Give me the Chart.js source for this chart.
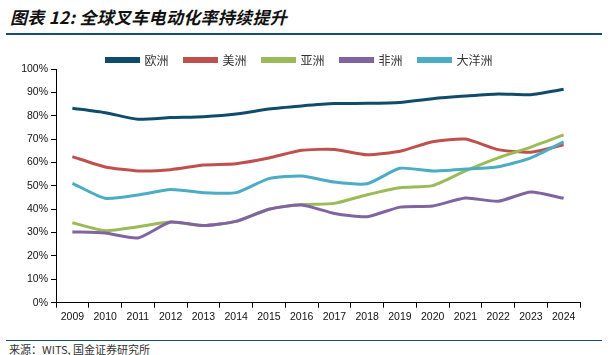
<!DOCTYPE html>
<html><head><meta charset="utf-8">
<script src="https://cdn.jsdelivr.net/npm/chart.js@4.4.1/dist/chart.umd.min.js"></script>
<style>
html,body{margin:0;padding:0;background:#fff;width:610px;height:355px;overflow:hidden;position:relative;}
#title{position:absolute;left:10px;top:4px;font:italic bold 17px "Noto Sans CJK SC";color:#111;letter-spacing:0.3px;white-space:nowrap;}
#rule1{position:absolute;left:6px;top:33px;width:596px;height:2px;background:#17506c;}
#rule2{position:absolute;left:6px;top:340px;width:596px;height:1px;background:#17506c;}
#src{position:absolute;left:9px;top:341px;font:11px "Noto Sans CJK SC";color:#333;white-space:nowrap;}
#wrap{position:absolute;left:0;top:38px;width:610px;height:296px;}
</style></head><body>
<div id="title">图表 12: 全球叉车电动化率持续提升</div>
<div id="rule1"></div>
<div id="wrap"><canvas id="c"></canvas></div>
<div id="rule2"></div>
<div id="src">来源：WITS, 国金证券研究所</div>
<script>
const years = ['2009','2010','2011','2012','2013','2014','2015','2016','2017','2018','2019','2020','2021','2022','2023','2024'];
const europe   = [83.2,81.3,78.5,79.2,79.6,80.7,82.9,84.2,85.2,85.3,85.7,87.3,88.4,89.3,89.0,91.3];
const americas = [62.5,58.1,56.4,56.9,58.9,59.5,61.9,65.2,65.6,63.3,64.8,68.9,70.0,65.5,64.4,67.6];
const asia     = [34.2,30.8,32.5,34.5,33.0,34.8,40.0,42.0,42.5,46.2,49.2,50.1,56.4,62.0,66.6,71.8];
const africa   = [30.3,29.8,27.7,34.5,33.0,34.8,40.0,41.8,38.2,36.8,40.9,41.4,44.8,43.4,47.4,44.7];
const oceania  = [51.1,44.7,46.1,48.4,47.1,47.1,53.1,54.2,51.6,50.9,57.5,56.4,57.2,58.2,62.0,68.8];
const seriesNames = ['欧洲','美洲','亚洲','非洲','大洋洲'];
const yTicks = [0,10,20,30,40,50,60,70,80,90,100];

const colors = ['#0f4c6c','#c0504d','#9bbb59','#8064a2','#4bacc6'];
const values = [europe, americas, asia, africa, oceania];
// reverse so later series draw on top; legend reversed back
const datasets = values.map((v,i)=>({
  label: seriesNames[i], data: v, borderColor: colors[i], backgroundColor: colors[i],
  borderWidth: 3, pointRadius: 0, tension: 0.2, fill: false
})).reverse();

const legendFix = {
  id:'legendFix',
  afterInit(chart){
    const lg = chart.legend; if(!lg) return;
    const orig = lg.fit;
    lg.fit = function(){ orig.call(this); this.height = 31; };
  }
};

new Chart(document.getElementById('c'), {
  type:'line',
  data:{labels: years, datasets},
  plugins:[legendFix],
  options:{
    responsive:true, maintainAspectRatio:false, animation:false,
    layout:{padding:{left:19,right:30,top:0,bottom:0}},
    plugins:{
      legend:{position:'top', reverse:true,
        labels:{boxWidth:32, boxHeight:3, padding:16, color:'#333', font:{family:'"Noto Sans CJK SC"', size:12}}},
      tooltip:{enabled:false}
    },
    scales:{
      x:{offset:true,
        grid:{offset:true, display:true, drawOnChartArea:false, drawTicks:true, tickLength:5, color:'#000'},
        border:{color:'#000', width:1},
        ticks:{color:'#111', padding:3, maxRotation:0, autoSkip:false, font:{family:'"Liberation Sans"', size:10.5}},
        afterFit(s){ s.height = 31.3; }
      },
      y:{min:0, max:100,
        afterBuildTicks(s){ s.ticks = yTicks.map(v=>({value:v})); },
        grid:{display:true, drawOnChartArea:false, drawTicks:true, tickLength:5, color:'#000'},
        border:{color:'#000', width:1},
        ticks:{color:'#111', padding:3, font:{family:'"Liberation Sans"', size:10.5}, callback:v=>v+'%'},
        afterFit(s){ s.width = 37; }
      }
    }
  }
});
</script>
</body></html>
